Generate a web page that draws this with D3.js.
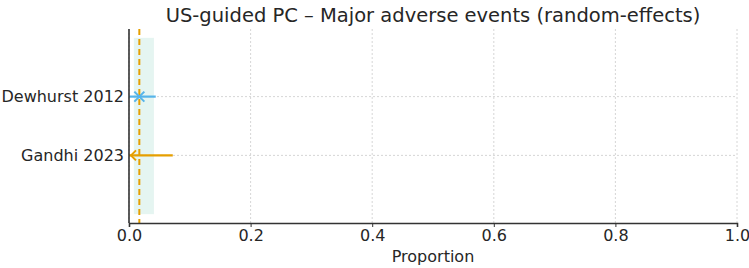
<!DOCTYPE html>
<html>
<head>
<meta charset="utf-8">
<script src="https://cdn.jsdelivr.net/npm/d3@7"></script>
<style>
  body { margin: 0; background: #fff; }
  text { font-family: "DejaVu Sans", sans-serif; fill: #262626; }
</style>
</head>
<body>
<script>
// study data
const studies = ["Dewhurst 2012", "Gandhi 2023"];
const estimates = [0.017, 0.0];
const ciLow = [0.0, 0.0];
const ciHigh = [0.044, 0.072];
const markers = ["x", "<"];
const colors = ["#56B4E9", "#E69F00"];

// pooled estimate
const pooled = 0.017;
const pooledLow = 0.008;
const pooledHigh = 0.041;

const xTicks = [0, 0.2, 0.4, 0.6, 0.8, 1.0];

const width = 749, height = 268;
const margin = { top: 29, right: 12, bottom: 45, left: 129 };

const svg = d3.select("body").append("svg")
  .attr("width", width)
  .attr("height", height);

const x = d3.scaleLinear().domain([0, 1]).range([margin.left, width - margin.right]);
// rows: Gandhi at 0, Dewhurst at 1, band spans -1..2
const y = d3.scaleLinear().domain([-1.15, 2.15]).range([height - margin.bottom, margin.top]);
const rowY = i => y(studies.length - 1 - i);

// pooled band
svg.append("rect")
  .attr("x", x(pooledLow))
  .attr("width", x(pooledHigh) - x(pooledLow))
  .attr("y", y(2))
  .attr("height", y(-1) - y(2))
  .attr("fill", "#009E73")
  .attr("fill-opacity", 0.1);

// grid
svg.append("g").selectAll("line")
  .data(xTicks)
  .join("line")
  .attr("x1", d => x(d)).attr("x2", d => x(d))
  .attr("y1", y(2.15)).attr("y2", y(-1.15))
  .attr("stroke", "#cccccc")
  .attr("stroke-width", 0.8)
  .attr("stroke-dasharray", "2,2");

svg.append("g").selectAll("line")
  .data(studies)
  .join("line")
  .attr("x1", x(0)).attr("x2", x(1))
  .attr("y1", (d, i) => rowY(i)).attr("y2", (d, i) => rowY(i))
  .attr("stroke", "#cccccc")
  .attr("stroke-width", 0.8)
  .attr("stroke-dasharray", "2,2");

// pooled line
svg.append("line")
  .attr("x1", x(pooled)).attr("x2", x(pooled))
  .attr("y1", y(2.15)).attr("y2", y(-1.15))
  .attr("stroke", "#E69F00")
  .attr("stroke-width", 2)
  .attr("stroke-dasharray", "6,4");

// CIs
studies.forEach((s, i) => {
  const cy = rowY(i);
  svg.append("line")
    .attr("x1", x(ciLow[i])).attr("x2", x(ciHigh[i]))
    .attr("y1", cy).attr("y2", cy)
    .attr("stroke", colors[i])
    .attr("stroke-width", 2.2);

  const cx = x(estimates[i]);
  const r = 5;
  if (markers[i] === "x") {
    svg.append("path")
      .attr("d", `M${cx - r},${cy - r}L${cx + r},${cy + r}M${cx - r},${cy + r}L${cx + r},${cy - r}`)
      .attr("stroke", colors[i])
      .attr("stroke-width", 2);
  } else {
    svg.append("path")
      .attr("d", `M${cx + r + 2},${cy - r}L${cx + 2},${cy}L${cx + r + 2},${cy + r}`)
      .attr("fill", "none")
      .attr("stroke", colors[i])
      .attr("stroke-width", 2);
  }
});

// axes
const xAxis = svg.append("g")
  .attr("transform", `translate(0,${y(-1.15)})`)
  .call(d3.axisBottom(x).tickValues(xTicks).tickFormat(d3.format(".1f")).tickSize(4).tickPadding(3));
xAxis.select(".domain").attr("stroke", "#333").attr("stroke-width", 1.6);
xAxis.selectAll(".tick line").attr("stroke", "#333");
xAxis.selectAll("text").style("font-size", "16px").attr("fill", "#262626");

const yAxis = svg.append("g")
  .attr("transform", `translate(${x(0)},0)`);
yAxis.append("line")
  .attr("y1", y(2.15)).attr("y2", y(-1.15))
  .attr("stroke", "#333").attr("stroke-width", 1.6);
yAxis.selectAll("text")
  .data(studies)
  .join("text")
  .attr("x", -5)
  .attr("y", (d, i) => rowY(i))
  .attr("dy", "0.35em")
  .attr("text-anchor", "end")
  .style("font-size", "16px")
  .text(d => d);

// labels
svg.append("text")
  .attr("x", (x(0) + x(1)) / 2)
  .attr("y", 22)
  .attr("text-anchor", "middle")
  .style("font-size", "19.5px")
  .text("US-guided PC – Major adverse events (random-effects)");

svg.append("text")
  .attr("x", (x(0) + x(1)) / 2)
  .attr("y", 262)
  .attr("text-anchor", "middle")
  .style("font-size", "16px")
  .text("Proportion");
</script>
</body>
</html>
